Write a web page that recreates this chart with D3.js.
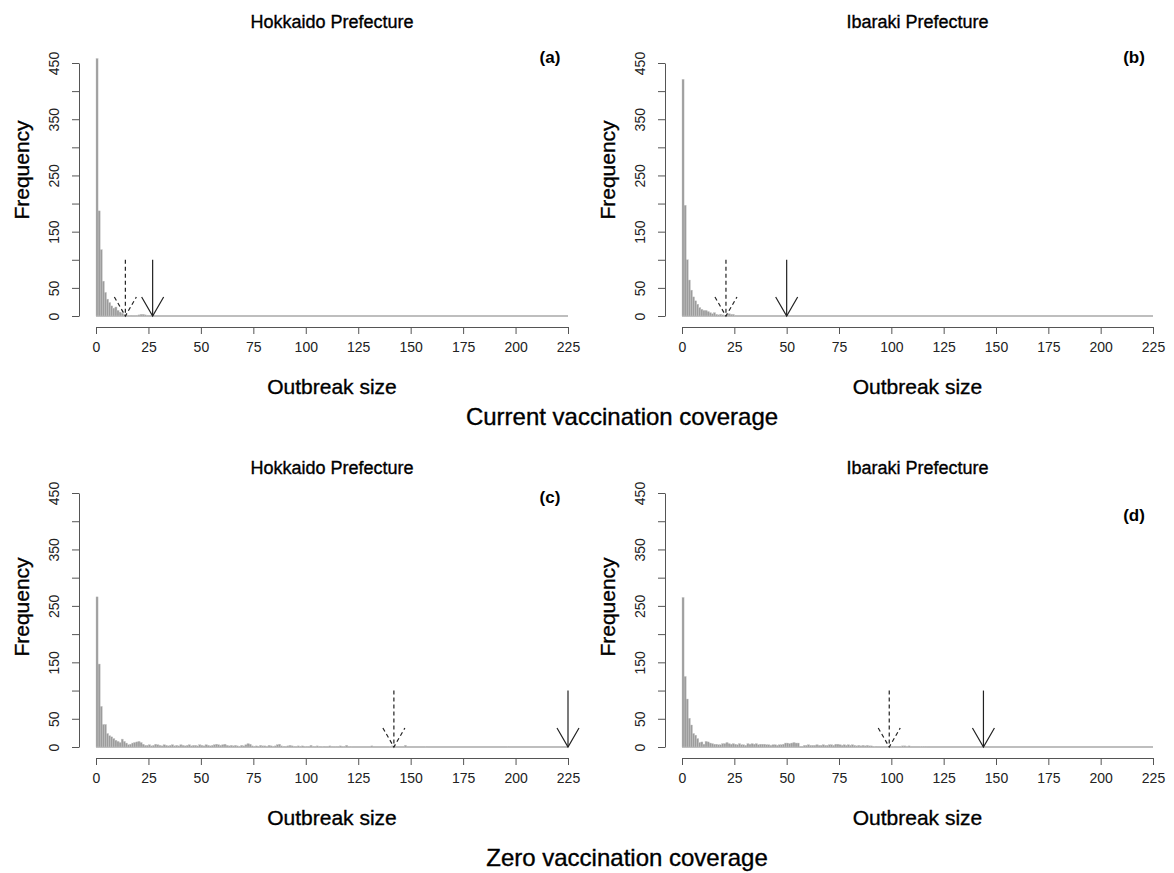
<!doctype html>
<html lang="en">
  <head>
    <meta charset="utf-8">
    <script src="https://d3js.org/d3.v7.min.js"></script>
    <title>Outbreak size histograms</title>
    <style>
      body { margin: 0; background: #fff; }
      text { font-family: "Liberation Sans", Arial, sans-serif; }
      .heavy { stroke: #000; stroke-width: 0.35px; }
    </style>
  </head>
  <body>

<div id="my_dataviz"></div>

<script>

    // frequency of each outbreak size bin (width 1, starting at 0)
    var hokkaidoCurrent = [458, 187, 118, 62, 42, 30, 24, 18, 14, 16, 10, 7, 5, 3, 2, 1, 1, 0, 0, 1, 2, 3, 3, 2, 1];
    var ibarakiCurrent = [421, 197, 100, 64, 46, 34, 27, 21, 15, 12, 10, 10, 8, 6, 4, 6, 3, 2, 3, 2, 1, 2, 4, 3, 3, 1];
    var hokkaidoZero = [266, 147, 72, 40, 40, 24, 20, 18, 15, 12, 10, 8, 14, 10, 7, 4, 5, 7, 8, 9, 10, 8, 5, 3, 3,
                        4, 2, 3, 5, 4, 3, 2, 4, 3, 2, 3, 4, 2, 3, 2, 4, 3, 2, 3, 4, 2, 3, 3, 2, 4,
                        3, 2, 4, 3, 2, 3, 4, 5, 4, 3, 4, 5, 3, 2, 3, 2, 3, 2, 1, 3, 2, 4, 6, 5, 2,
                        1, 2, 0, 3, 2, 2, 0, 3, 2, 1, 2, 4, 5, 2, 1, 0, 2, 3, 2, 1, 0, 2, 1, 2, 0,
                        1, 0, 3, 1, 0, 2, 1, 0, 1, 0, 0, 2, 1, 0, 1, 0, 2, 0, 1, 3, 0, 1, 0, 0, 0,
                        0, 0, 0, 0, 0, 0, 2, 0, 0, 0, 0, 0, 0, 0, 0, 1, 2, 0, 0, 0, 0, 0, 3, 0, 0,
                        0, 0, 0, 0, 0, 0, 0, 1, 0, 0, 0, 0, 0, 0, 0, 0, 0, 0, 0, 0, 0, 0, 0, 0, 0,
                        0, 0, 0, 0, 0, 0, 0, 0, 0, 0, 0, 0, 0, 0, 0, 0, 0, 0, 0, 0, 0, 1];
    var ibarakiZero = [265, 125, 85, 51, 39, 24, 21, 15, 8, 9, 5, 10, 9, 7, 6, 5, 5, 4, 4, 6,
                       6, 8, 6, 5, 6, 5, 4, 6, 4, 4, 3, 6, 5, 6, 5, 6, 4, 5, 5, 5,
                       4, 4, 3, 4, 4, 3, 4, 4, 5, 7, 7, 6, 7, 8, 7, 7, 0, 0, 3, 3,
                       4, 3, 3, 3, 4, 3, 3, 4, 3, 3, 4, 4, 3, 5, 5, 4, 3, 4, 3, 4,
                       3, 4, 3, 2, 3, 2, 3, 2, 3, 2, 2, 0, 1, 0, 0, 0, 0, 0, 1, 0,
                       0, 1, 0, 0, 0, 2, 2, 1, 2, 0, 0, 0, 0, 0, 1, 1, 1];

    // arrow positions (outbreak size)
    var dashedArrowAt = [14, 21, 142, 99];
    var solidArrowAt = [27, 50, 225, 144];
    var arrowTop = 100;

    // axis ticks
    var xTicks = [0, 25, 50, 75, 100, 125, 150, 175, 200, 225];
    var yTicks = [0, 50, 100, 150, 200, 250, 300, 350, 400, 450];
    var yTickLabels = [0, 50, 150, 250, 350, 450];

    var titles = ["Hokkaido Prefecture", "Ibaraki Prefecture", "Hokkaido Prefecture", "Ibaraki Prefecture"];
    var panelLabels = ["(a)", "(b)", "(c)", "(d)"];
    var rowTitles = ["Current vaccination coverage", "Zero vaccination coverage"];

    var series = [hokkaidoCurrent, ibarakiCurrent, hokkaidoZero, ibarakiZero];

    // layout of the four panels (pixels)
    var layout = [
      {x0: 96, x1: 568, base: 316, top: 63, labelX: 550, labelY: 63, titleY: 28, freqY: 170},
      {x0: 682, x1: 1153, base: 316, top: 63, labelX: 1134, labelY: 63, titleY: 28, freqY: 170},
      {x0: 96, x1: 568, base: 747, top: 493, labelX: 550, labelY: 503, titleY: 474, freqY: 607},
      {x0: 682, x1: 1153, base: 747, top: 493, labelX: 1134, labelY: 521, titleY: 474, freqY: 607}
    ];

    var svg = d3.select("#my_dataviz")
      .append("svg")
        .attr("width", 1174)
        .attr("height", 873)
        .style("background", "#fff");

    layout.forEach(function(p, k) {

      var x = d3.scaleLinear().domain([0, 225]).range([p.x0, p.x1]);
      var y = d3.scaleLinear().domain([0, 450]).range([p.base, p.top]);
      var g = svg.append("g");

      // zero line left by the empty bins
      g.append("line")
        .attr("x1", x(0)).attr("x2", x(225))
        .attr("y1", y(0)).attr("y2", y(0))
        .attr("stroke", "#a8a8a8")
        .attr("stroke-width", 1.5);

      // bars
      g.selectAll("rect")
        .data(series[k].map(function(v, i) { return {bin: i, n: v}; }).filter(function(d) { return d.n > 0; }))
        .enter()
        .append("rect")
          .attr("x", function(d) { return x(d.bin); })
          .attr("y", function(d) { return y(d.n); })
          .attr("width", x(1) - x(0))
          .attr("height", function(d) { return y(0) - y(d.n); })
          .attr("fill", "#9c9c9c")
          .attr("stroke", "#c8c8c8")
          .attr("stroke-width", 0.4);

      // X axis
      var xa = g.append("g")
        .attr("transform", "translate(0," + (y(0) + 11) + ")")
        .call(d3.axisBottom(x).tickValues(xTicks).tickSize(7).tickSizeOuter(0));
      xa.select(".domain").attr("stroke", "#555");
      xa.selectAll(".tick line").attr("stroke", "#555");
      xa.selectAll(".tick text")
        .attr("y", 21)
        .attr("dy", "0.32em")
        .attr("fill", "#222")
        .style("font-size", "14px")
        .style("font-family", "Liberation Sans, Arial, sans-serif");

      // Y axis
      var ya = g.append("g")
        .attr("transform", "translate(" + (x(0) - 17) + ",0)")
        .call(d3.axisLeft(y).tickValues(yTicks).tickSize(7).tickSizeOuter(0)
          .tickFormat(function(d) { return yTickLabels.indexOf(d) >= 0 ? d : ""; }));
      ya.select(".domain").attr("stroke", "#555");
      ya.selectAll(".tick line").attr("stroke", "#555");
      ya.selectAll(".tick text")
        .attr("x", 0).attr("dy", 0)
        .attr("text-anchor", "middle")
        .attr("dominant-baseline", "central")
        .attr("transform", "translate(-25,0) rotate(-90)")
        .attr("fill", "#222")
        .style("font-size", "14px")
        .style("font-family", "Liberation Sans, Arial, sans-serif");

      // arrows
      function arrow(at, dashed) {
        var a = g.append("g")
          .attr("stroke", "#222")
          .attr("stroke-width", 1.2)
          .attr("fill", "none")
          .attr("stroke-dasharray", dashed ? "4,3" : null);
        var tx = x(at), ty = y(0);
        a.append("line").attr("x1", tx).attr("x2", tx).attr("y1", y(arrowTop)).attr("y2", ty);
        a.append("path").attr("d", "M" + (tx - 11) + "," + (ty - 19) + "L" + tx + "," + ty + "L" + (tx + 11) + "," + (ty - 19));
      }
      arrow(dashedArrowAt[k], true);
      arrow(solidArrowAt[k], false);

      // texts
      g.append("text")
        .attr("class", "heavy")
        .attr("x", (p.x0 + p.x1) / 2)
        .attr("y", p.titleY)
        .attr("text-anchor", "middle")
        .style("font-size", "18px")
        .text(titles[k]);

      g.append("text")
        .attr("x", p.labelX)
        .attr("y", p.labelY)
        .attr("text-anchor", "middle")
        .style("font-size", "17px")
        .style("font-weight", "bold")
        .text(panelLabels[k]);

      g.append("text")
        .attr("class", "heavy")
        .attr("transform", "translate(" + (p.x0 - 67) + "," + p.freqY + ") rotate(-90)")
        .attr("text-anchor", "middle")
        .style("font-size", "21px")
        .text("Frequency");

      g.append("text")
        .attr("class", "heavy")
        .attr("x", (p.x0 + p.x1) / 2)
        .attr("y", p.base + 78)
        .attr("text-anchor", "middle")
        .style("font-size", "21px")
        .text("Outbreak size");
    });

    // row captions
    svg.append("text")
      .attr("class", "heavy")
      .attr("x", 622).attr("y", 425)
      .attr("text-anchor", "middle")
      .style("font-size", "24px")
      .text(rowTitles[0]);

    svg.append("text")
      .attr("class", "heavy")
      .attr("x", 627).attr("y", 866)
      .attr("text-anchor", "middle")
      .style("font-size", "24px")
      .text(rowTitles[1]);

</script>
</body>
</html>
